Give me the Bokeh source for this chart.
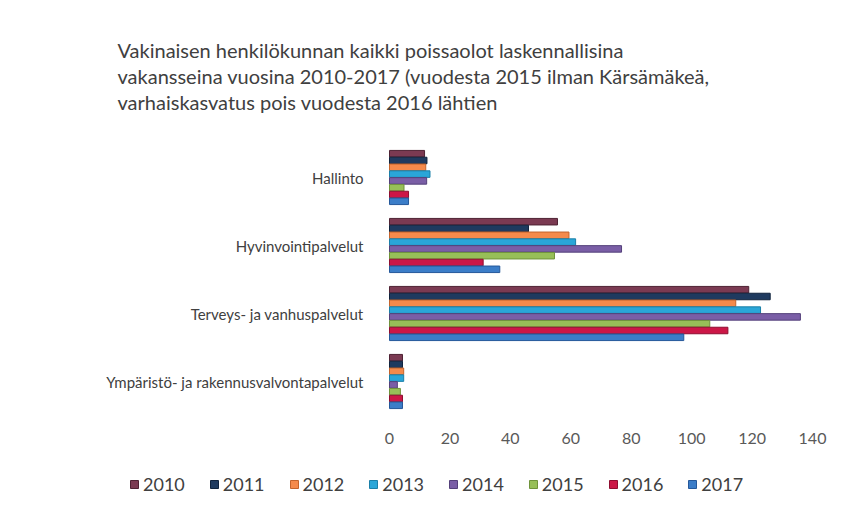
import numpy as np
from bokeh.plotting import figure
from bokeh.models import ColumnDataSource, Legend, LegendItem, Range1d, Title, FixedTicker
from bokeh.embed import file_html
from bokeh.resources import INLINE

categories = ["Hallinto", "Hyvinvointipalvelut", "Terveys- ja vanhuspalvelut",
              "Ympäristö- ja rakennusvalvontapalvelut"]
years = ["2010", "2011", "2012", "2013", "2014", "2015", "2016", "2017"]
v2010 = [11.6, 55.6, 118.9, 4.3]
v2011 = [12.4, 46.0, 126.0, 4.3]
v2012 = [12.0, 59.4, 114.6, 4.7]
v2013 = [13.4, 61.6, 122.8, 4.7]
v2014 = [12.3, 76.8, 136.0, 2.6]
v2015 = [4.8, 54.6, 106.0, 3.6]
v2016 = [6.3, 31.0, 112.0, 4.3]
v2017 = [6.3, 36.5, 97.4, 4.3]
values = [v2010, v2011, v2012, v2013, v2014, v2015, v2016, v2017]
colors = ["#7b3a52", "#1f3a5f", "#f58a4b", "#2aa6d8", "#7a5ea6", "#97bf58", "#cc1747", "#3b7dc8"]
outlines = ["#4e2233", "#10233d", "#c4642c", "#1a7fa8", "#54407a", "#6f933b", "#8f0d30", "#25589a"]
tick_labels = ["0", "20", "40", "60", "80", "100", "120", "140"]
title_text = ("Vakinaisen henkilökunnan kaikki poissaolot laskennallisina\n"
              "vakansseina vuosina 2010-2017 (vuodesta 2015 ilman Kärsämäkeä,\n"
              "varhaiskasvatus pois  vuodesta 2016 lähtien")

# category positions: first category on top
cat_pos = -np.arange(len(categories), dtype=float)
n = len(years)
bh = 0.1

data = {"cat": categories, "pos": cat_pos}
for i, (y, v) in enumerate(zip(years, values)):
    data["v" + y] = v
    data["p" + y] = cat_pos + ((n - 1) / 2 * bh - i * bh)
src = ColumnDataSource(data)

W, H = 850, 500
# frame spans the whole width; axes drawn at fixed locations inside it
px_per_unit = 423 / 140.0
x_start = -389 / px_per_unit
x_end = 140 + 38 / px_per_unit
p = figure(width=W, height=H, output_backend="svg", toolbar_location=None,
           x_range=Range1d(x_start, x_end), y_range=Range1d(0.5 - 357 / 68.0, 0.5),
           min_border_left=0, min_border_right=0, min_border_top=143, min_border_bottom=0)
p.outline_line_color = None
p.xgrid.grid_line_color = None
p.ygrid.grid_line_color = None
p.background_fill_color = "white"

p.add_layout(Title(text=title_text, align="left", offset=117, standoff=58,
                   text_font="Lato", text_font_size="20px", text_color="#404040",
                   text_font_style="normal", text_line_height=1.1), "above")

items = []
for i, (y, c, oc) in enumerate(zip(years, colors, outlines)):
    r = p.hbar(y="p" + y, right="v" + y, left=0, height=bh * 0.96,
               source=src, fill_color=c, line_color=oc, line_width=1)
    items.append(LegendItem(label=y, renderers=[r]))

p.xaxis.ticker = FixedTicker(ticks=[int(t) for t in tick_labels])
p.xaxis.fixed_location = float(cat_pos[-1]) - 0.5
p.xaxis.axis_line_color = None
p.xaxis.major_tick_line_color = None
p.xaxis.minor_tick_line_color = None
p.xaxis.major_label_text_font = "Lato"
p.xaxis.major_label_text_font_size = "16px"
p.xaxis.major_label_text_color = "#595959"
p.xaxis.major_label_standoff = 11

p.yaxis.ticker = FixedTicker(ticks=list(cat_pos))
p.yaxis.major_label_overrides = {float(k): c for k, c in zip(cat_pos, categories)}
p.yaxis.fixed_location = 0
p.yaxis.axis_line_color = None
p.yaxis.major_tick_line_color = None
p.yaxis.minor_tick_line_color = None
p.yaxis.major_label_text_font = "Lato"
p.yaxis.major_label_text_font_size = "15px"
p.yaxis.major_label_text_color = "#404040"
p.yaxis.major_label_standoff = 20

legend = Legend(items=items, orientation="horizontal", location=(129, 5),
                border_line_color=None, background_fill_alpha=0,
                label_text_font="Lato", label_text_font_size="18px", label_text_color="#404040",
                glyph_width=10, glyph_height=10, label_standoff=4, spacing=24,
                padding=4, margin=0)
p.add_layout(legend, "center")

open("out.html", "w").write(file_html(p, INLINE))
